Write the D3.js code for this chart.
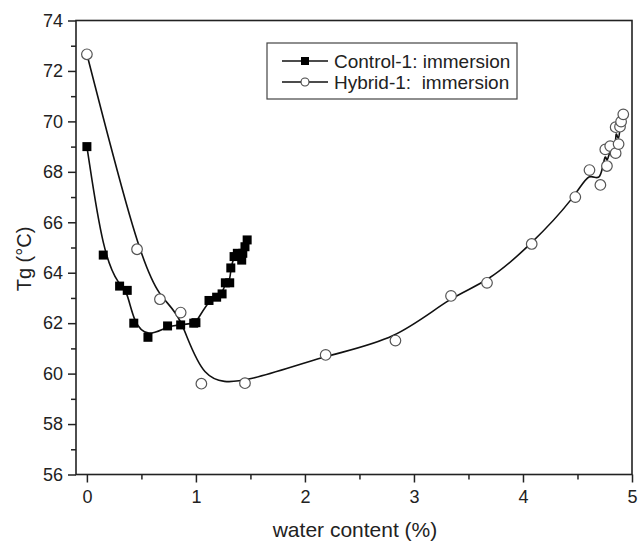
<!DOCTYPE html>
<html>
<head>
<meta charset="utf-8">
<script src="https://d3js.org/d3.v7.min.js"></script>
<style>
  body { margin: 0; background: #fff; }
  svg text { font-family: "Liberation Sans", Arial, sans-serif; fill: #222; }
</style>
</head>
<body>
<svg id="chart" width="639" height="543"></svg>
<script>
// control sample, water content (%) and Tg (°C)
var ctrlX = [0, 0.15, 0.30, 0.37, 0.43, 0.56, 0.74, 0.86, 0.98, 1.00, 1.12, 1.19, 1.24, 1.27, 1.31, 1.32, 1.35, 1.38, 1.42, 1.43, 1.45, 1.47];
var ctrlY = [69.0, 64.7, 63.47, 63.3, 62.0, 61.44, 61.89, 61.93, 62.0, 62.02, 62.9, 63.03, 63.16, 63.6, 63.6, 64.19, 64.64, 64.77, 64.5, 64.77, 65.03, 65.3];
// hybrid sample
var hybX = [0, 0.46, 0.67, 0.86, 1.05, 1.45, 2.19, 2.83, 3.34, 3.67, 4.08, 4.48, 4.61, 4.71, 4.755, 4.77, 4.80, 4.85, 4.85, 4.877, 4.89, 4.90, 4.92];
var hybY = [72.66, 64.93, 62.95, 62.42, 59.6, 59.62, 60.74, 61.31, 63.08, 63.6, 65.14, 67.0, 68.07, 67.48, 68.89, 68.23, 69.02, 68.74, 69.77, 69.1, 69.79, 69.99, 70.28];

var xTicks = [0, 1, 2, 3, 4, 5];
var xMinor = [0.5, 1.5, 2.5, 3.5, 4.5];
var yTicks = [56, 58, 60, 62, 64, 66, 68, 70, 72, 74];
var yMinor = [57, 59, 61, 63, 65, 67, 69, 71, 73];
var seriesNames = ["Control-1: immersion", "Hybrid-1:  immersion"];

var svg = d3.select("#chart");
var x = d3.scaleLinear().domain([-0.1, 5]).range([76, 632]);
var y = d3.scaleLinear().domain([56, 74]).range([474.5, 20.5]);

// minor ticks
svg.append("g").attr("transform", "translate(0,474.5)")
  .call(d3.axisBottom(x).tickValues(xMinor).tickSize(5).tickFormat(""))
  .call(g => g.select(".domain").remove());
svg.append("g").attr("transform", "translate(76,0)")
  .call(d3.axisLeft(y).tickValues(yMinor).tickSize(5).tickFormat(""))
  .call(g => g.select(".domain").remove());

// major ticks
var gx = svg.append("g").attr("transform", "translate(0,474.5)")
  .call(d3.axisBottom(x).tickValues(xTicks).tickSize(8).tickPadding(8).tickFormat(d3.format("d")));
gx.select(".domain").remove();
var gy = svg.append("g").attr("transform", "translate(76,0)")
  .call(d3.axisLeft(y).tickValues(yTicks).tickSize(8).tickPadding(5).tickFormat(d3.format("d")));
gy.select(".domain").remove();
svg.selectAll(".tick line").attr("stroke", "#222").attr("stroke-width", 1.5);
svg.selectAll(".tick text").style("font-size", "18px");

// frame
svg.append("rect").attr("x", 76).attr("y", 20.5).attr("width", 556).attr("height", 454)
  .attr("fill", "none").attr("stroke", "#222").attr("stroke-width", 1.6);

var ctrl = ctrlX.map((v, i) => [v, ctrlY[i]]);
var hyb = hybX.map((v, i) => [v, hybY[i]]);
var line = d3.line().x(d => x(d[0])).y(d => y(d[1])).curve(d3.curveBasis);

svg.append("path").datum(ctrl).attr("d", line)
  .attr("fill", "none").attr("stroke", "#111").attr("stroke-width", 1.6);
svg.append("path").datum(hyb).attr("d", line)
  .attr("fill", "none").attr("stroke", "#111").attr("stroke-width", 1.6);

svg.selectAll("rect.sq").data(ctrl).enter().append("rect").attr("class", "sq")
  .attr("x", d => x(d[0]) - 4.5).attr("y", d => y(d[1]) - 4.5)
  .attr("width", 9).attr("height", 9).attr("fill", "#000");
svg.selectAll("circle.ci").data(hyb).enter().append("circle").attr("class", "ci")
  .attr("cx", d => x(d[0])).attr("cy", d => y(d[1])).attr("r", 5.3)
  .attr("fill", "#fff").attr("stroke", "#555").attr("stroke-width", 1.2);

// legend
var lg = svg.append("g");
lg.append("rect").attr("x", 267).attr("y", 43).attr("width", 250).attr("height", 56)
  .attr("fill", "#fff").attr("stroke", "#444").attr("stroke-width", 1.2);
seriesNames.forEach(function(name, i) {
  var ly = 61 + i * 21;
  lg.append("line").attr("x1", 282).attr("x2", 328).attr("y1", ly).attr("y2", ly)
    .attr("stroke", "#111").attr("stroke-width", 1.5);
  if (i == 0) {
    lg.append("rect").attr("x", 301).attr("y", ly - 4).attr("width", 8).attr("height", 8).attr("fill", "#000");
  } else {
    lg.append("circle").attr("cx", 305).attr("cy", ly).attr("r", 4)
      .attr("fill", "#fff").attr("stroke", "#444").attr("stroke-width", 1.1);
  }
  lg.append("text").attr("x", 334).attr("y", ly).attr("dy", "0.36em")
    .style("font-size", "19px").style("white-space", "pre").text(name);
});

// axis titles
svg.append("text").attr("x", 355).attr("y", 537).attr("text-anchor", "middle")
  .style("font-size", "21px").text("water content (%)");
svg.append("text").attr("transform", "translate(24,259) rotate(-90)").attr("text-anchor", "middle")
  .attr("dy", "0.35em").style("font-size", "20px").text("Tg (°C)");
</script>
</body>
</html>
